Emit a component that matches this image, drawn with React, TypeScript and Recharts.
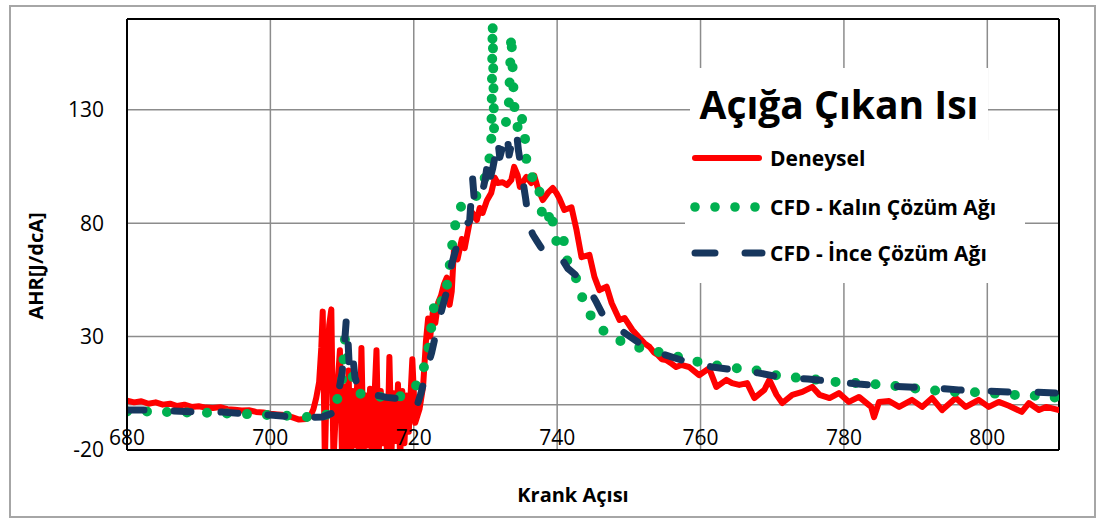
import React from 'react';
import {
  LineChart,
  Line,
  XAxis,
  YAxis,
  CartesianGrid,
  ReferenceLine,
  Legend,
  Label,
} from 'recharts';

const FONT = '"Open Sans", "Noto Sans", sans-serif';

// Deneysel (experimental)
const deneyselAci = [
  680, 681, 682, 683, 684, 685, 686, 687, 688, 689,
  690, 691, 692, 693, 694, 695, 696, 697, 698, 699,
  700, 701, 702, 703, 704, 705, 705.6, 706, 706.4, 706.8,
  707.1, 707.3, 707.6, 707.9, 708.2, 708.5, 708.8, 709.1, 709.4, 709.7,
  710, 710.3, 710.6, 710.9, 711.2, 711.5, 711.8, 712.1, 712.4, 712.7,
  713, 713.3, 713.6, 713.9, 714.2, 714.5, 714.8, 715.1, 715.4, 715.7,
  716, 716.3, 716.6, 716.9, 717.2, 717.5, 717.8, 718.1, 718.4, 718.7,
  719, 719.3, 719.8, 720.2, 720.8, 721.3, 721.7, 722, 722.3, 722.7,
  723, 723.4, 723.8, 724.2, 724.6, 725, 725.3, 725.6, 726.1, 726.7,
  727.1, 727.8, 728.2, 728.8, 729.2, 729.6, 730.2, 730.8, 731.3, 731.7,
  732.4, 733, 733.6, 734, 734.5, 734.8, 735.2, 735.7, 736.4, 736.8,
  737.3, 738, 738.7, 739.4, 739.9, 740.3, 741, 742, 742.7, 743.4,
  744.5, 745.2, 745.9, 746.9, 747.6, 748.7, 749.4, 750.5, 751.5, 752.2,
  752.9, 753.5, 754, 754.6, 755.2, 756, 756.6, 757.3, 758.4, 759.8,
  761.2, 762.2, 763.6, 764.4, 765.4, 766.5, 767.5, 768.9, 769.6, 770.6,
  771.4, 772.8, 774.2, 775.6, 776.6, 778, 779.3, 780.7, 782.1, 783.8,
  784.2, 784.9, 786.3, 787.7, 789.5, 790.9, 792.3, 793.7, 795.6, 797,
  798.8, 800.2, 801.6, 803, 804.8, 805.8, 807.2, 808.2, 810,
];
const deneyselAHR = [
  1.8, 1.0, 1.5, 0.4, 1.0, 0.0, 0.4, -0.6, 0.0, -1.0,
  -0.7, -1.3, -1.5, -1.1, -2.0, -2.2, -2.6, -2.5, -3.2, -3.5,
  -4.0, -4.3, -4.6, -5.5, -6.6, -6.3, -5.0, -2.0, 3.0, 10.0,
  25, 41, -25, 15, 35, 42, -25, -5, 10, 24,
  -25, 8, -22, 15, -24, 6, -18, 9, -25, 25,
  -22, 4, -18, 7, -25, 2, 24, -23, 6, -17,
  3, -25, 21, -20, 5, -16, 9, -24, 6, -17,
  4, -12, 20, -8, -2, 8, 28, 38, 30, 42,
  36, 45, 48, 53, 56, 44, 50, 68, 64, 73,
  69, 80.5, 84.5, 81.4, 86.7, 84.5, 90, 93.3, 100, 97.7,
  98, 96.8, 99, 104.8, 101, 96, 98, 100.4, 97.7, 101,
  95.5, 90.2, 93.3, 95.5, 93.3, 91, 85.8, 87, 77, 65,
  66, 56.3, 50.5, 52, 44.8, 37.3, 38.2, 32.9, 29.4, 27,
  25.4, 23, 22, 20, 19.7, 18, 16.6, 17.5, 16.6, 13,
  16, 7.8, 10.9, 9.5, 8.7, 9.5, 2.9, 6.5, 10.9, 4.3,
  0.7, 4.3, 5.6, 7.8, 4.3, 2.9, 5.1, 1.2, 3.4, -1,
  -5.5, 1.2, 1.6, -1, 2.1, -1, 2.9, -2.4, 2.9, -1,
  2.1, -1, 1.2, -0.5, -3.2, 0.7, -2.4, -1, -2.4,
];

// CFD - Kalın Çözüm Ağı (coarse mesh)
const kalinAci = [
  680, 683, 686, 690, 693, 697, 700, 703, 705.5, 707.5,
  708.6, 709.4, 710, 710.4, 710.7, 711, 711.4, 712.2, 715, 717.8,
  719.2, 720.4, 721.3, 722, 722.4, 722.7, 723.2, 724, 724.6, 725,
  725.3, 725.7, 726.4, 728.2, 729.6, 730.4, 730.8, 731, 731.2, 731.8,
  732.5, 733.2, 733.6, 734, 734.5, 735, 735.5, 735.7, 736, 736.6,
  737.3, 737.6, 737.8, 738.1, 738.6, 739.2, 739.4, 739.6, 740.2, 740.9,
  741, 741.7, 742.4, 743.4, 744.5, 746.3, 747.7, 749.7, 752.5, 755,
  758, 759.8, 761.5, 764.3, 766.1, 768.2, 770.3, 772.1, 774.2, 778.9,
  783.8, 786.3, 788.8, 791.5, 794, 797.7, 800.2, 803, 805.5, 808.3,
  810,
];
const kalinAHR = [
  -3, -3, -3.3, -3.5, -3.8, -4.2, -4.6, -5, -5.5, -5,
  -3, 3, 11, 29, 20, 15, 13, 5, 3.5, 3.4,
  4.5, 8.7, 15, 24, 33, 41, 48, 45, 52, 61,
  69, 78, 87, 89, 97, 105, 114, 168, 121, 123,
  122, 127, 163, 132, 122, 128, 118, 108, 102, 100,
  100, 92, 86, 81, 80, 86, 80, 74, 70, 74,
  67, 61, 58, 48, 40, 33, 29.5, 27, 24, 22.8,
  20, 18.8, 17.5, 16.6, 15.3, 15, 13.1, 12.2, 11.7, 10,
  9.1, 8.7, 7.3, 6.9, 5.6, 5.6, 5.1, 4.3, 4.3, 3.4,
  3,
];

// CFD - İnce Çözüm Ağı (fine mesh)
const inceAci = [
  680, 683, 686.4, 689.7, 693.4, 696.7, 700, 703.7, 705, 707.2,
  708.7, 709.3, 710, 710.3, 710.6, 710.8, 711, 711.2, 711.4, 711.6,
  711.8, 712.2, 712.9, 714, 715, 716.2, 717.5, 719, 719.8, 720.4,
  721, 721.8, 722.5, 723.2, 724, 724.6, 725.3, 726, 726.4, 727,
  727.8, 728.2, 728.5, 729, 729.6, 730, 730.3, 730.6, 731, 731.5,
  731.7, 732, 732.5, 733, 733.3, 733.8, 734.3, 734.6, 735, 735.2,
  735.6, 735.9, 736.2, 736.6, 737.2, 737.8, 738.5, 739, 739.5, 740.5,
  741.5, 743, 744.8, 745.5, 746.3, 747.3, 749.7, 752, 755, 758,
  761.6, 764.7, 768, 771, 775, 779, 782, 786, 789, 793,
  796, 800, 803, 806, 810,
];
const inceAHR = [
  -2.4, -2.4, -2.8, -3.2, -3.3, -4.1, -4.6, -5.5, -5.6, -5.5,
  -3.7, 2, 14, 25, 38, 30, 17, 20, 23, 18,
  12, 8, 5, 4.5, 4, 3.2, 2.8, 2.4, 2, -1,
  5, 15, 23, 33, 43, 50, 62, 70, 76, 78,
  81, 100, 88, 90, 94, 100, 107, 99, 104, 112,
  117, 109, 115, 120, 110, 117, 121, 112, 104, 99,
  91, 84, 78, 75, 72, 69, 67, 67, 65, 65,
  60, 56, 49, 45, 40, 36, 31, 26, 22, 19,
  16.6, 15.3, 14, 12.2, 11.3, 10, 9.1, 8.2, 7.8, 7.3,
  6.5, 6, 5.6, 5.6, 5.1,
];

const xTicks = [680, 700, 720, 740, 760, 780, 800];
const yTicks = [-20, 30, 80, 130];

const RED = '#ff0000';
const GREEN = '#00b050';
const NAVY = '#17375e';
const GRID = '#8c8c8c';

const toPoints = (xs: number[], ys: number[]) =>
  xs.map((aci, i) => ({ aci, ahr: ys[i] }));

const deneyselData = toPoints(deneyselAci, deneyselAHR);
const kalinData = toPoints(kalinAci, kalinAHR);
const inceData = toPoints(inceAci, inceAHR);

function XTick({ x, y, payload }: any) {
  // labels sit just above the bottom axis line
  return (
    <text x={x} y={y - 5} textAnchor="middle" fill="#000" fontSize={21} fontFamily={FONT}>
      {payload.value}
    </text>
  );
}

function LegendBox() {
  return (
    <div style={{ position: 'relative', width: 340, height: 218 }}>
      <div style={{ position: 'absolute', left: 5, top: 2, width: 298, height: 77, background: '#fff' }}>
        <svg width={298} height={77}>
          <text
            x={149}
            y={35}
            textAnchor="middle"
            dominantBaseline="central"
            fontFamily={FONT}
            fontWeight={700}
            fontSize={39}
            fill="#000"
          >
            Açığa Çıkan Isı
          </text>
        </svg>
      </div>
      <div style={{ position: 'absolute', left: 0, top: 74, width: 340, height: 143, background: '#fff' }}>
        <svg width={340} height={143} fontFamily={FONT} fontWeight={700} fontSize={21}>
          <line x1={10} y1={18} x2={74} y2={18} stroke={RED} strokeWidth={6} strokeLinecap="round" />
          <text x={85} y={18} dominantBaseline="central" fill="#000">Deneysel</text>
          {[10, 30, 50, 70].map((cx) => (
            <circle key={cx} cx={cx} cy={67} r={4.8} fill={GREEN} />
          ))}
          <text x={85} y={67} dominantBaseline="central" fill="#000">CFD - Kalın Çözüm Ağı</text>
          <line x1={10} y1={113} x2={30} y2={113} stroke={NAVY} strokeWidth={7} strokeLinecap="round" />
          <line x1={60} y1={113} x2={77} y2={113} stroke={NAVY} strokeWidth={7} strokeLinecap="round" />
          <text x={85} y={113} dominantBaseline="central" fill="#000">CFD - İnce Çözüm Ağı</text>
        </svg>
      </div>
    </div>
  );
}

export default function App() {
  return (
    <div
      style={{
        position: 'absolute',
        left: 0,
        top: 0,
        width: 1105,
        height: 520,
        background: '#fff',
        fontFamily: FONT,
      }}
    >
      <div
        style={{
          position: 'absolute',
          left: 9,
          top: 5,
          width: 1087,
          height: 513,
          border: '2px solid #a6a6a6',
          boxSizing: 'border-box',
        }}
      />
      <LineChart
        width={1105}
        height={520}
        margin={{ top: 19, right: 46, bottom: 40, left: 67 }}
        style={{ position: 'absolute', left: 0, top: 0 }}
      >
        <CartesianGrid stroke={GRID} strokeWidth={1.5} />
        <XAxis
          type="number"
          dataKey="aci"
          domain={[680, 810]}
          ticks={xTicks}
          allowDataOverflow
          height={30}
          tickLine={false}
          tickSize={0}
          tickMargin={0}
          axisLine={{ stroke: '#000', strokeWidth: 2 }}
          tick={<XTick />}
        >
          <Label
            content={({ viewBox }: any) => (
              <text
                x={viewBox.x + viewBox.width / 2 - 20}
                y={viewBox.y + 44}
                textAnchor="middle"
                dominantBaseline="central"
                fontFamily={FONT}
                fontWeight={700}
                fontSize={20}
                fill="#000"
              >
                Krank Açısı
              </text>
            )}
          />
        </XAxis>
        <YAxis
          type="number"
          domain={[-20, 170]}
          ticks={yTicks}
          allowDataOverflow
          width={60}
          tickLine={false}
          tickMargin={17}
          axisLine={{ stroke: '#000', strokeWidth: 2 }}
          tick={{ fill: '#000', fontSize: 21, fontFamily: FONT }}
        >
          <Label
            content={({ viewBox }: any) => {
              const cx = viewBox.x - 32;
              const cy = viewBox.y + 247;
              return (
                <text
                  x={cx}
                  y={cy}
                  transform={`rotate(-90, ${cx}, ${cy})`}
                  textAnchor="middle"
                  dominantBaseline="central"
                  fontFamily={FONT}
                  fontWeight={700}
                  fontSize={20}
                  fill="#000"
                >
                  AHR[J/dcA]
                </text>
              );
            }}
          />
        </YAxis>
        <ReferenceLine y={0} stroke={GRID} strokeWidth={1.5} />
        <ReferenceLine y={170} stroke="#000" strokeWidth={2} />
        <ReferenceLine x={810} stroke="#000" strokeWidth={2} />
        <Legend
          layout="vertical"
          align="center"
          verticalAlign="middle"
          wrapperStyle={{ left: 685, top: 66, width: 340, height: 218 }}
          content={() => <LegendBox />}
        />
        <Line
          data={deneyselData}
          dataKey="ahr"
          type="linear"
          stroke={RED}
          strokeWidth={6}
          strokeLinejoin="round"
          strokeLinecap="round"
          dot={false}
          activeDot={false}
          isAnimationActive={false}
        />
        <Line
          data={kalinData}
          dataKey="ahr"
          type="linear"
          stroke={GREEN}
          strokeWidth={10}
          strokeDasharray="0 20"
          strokeLinecap="round"
          dot={false}
          activeDot={false}
          isAnimationActive={false}
        />
        <Line
          data={inceData}
          dataKey="ahr"
          type="linear"
          stroke={NAVY}
          strokeWidth={7}
          strokeDasharray="17 30"
          strokeLinecap="round"
          strokeLinejoin="round"
          dot={false}
          activeDot={false}
          isAnimationActive={false}
        />
      </LineChart>
    </div>
  );
}
